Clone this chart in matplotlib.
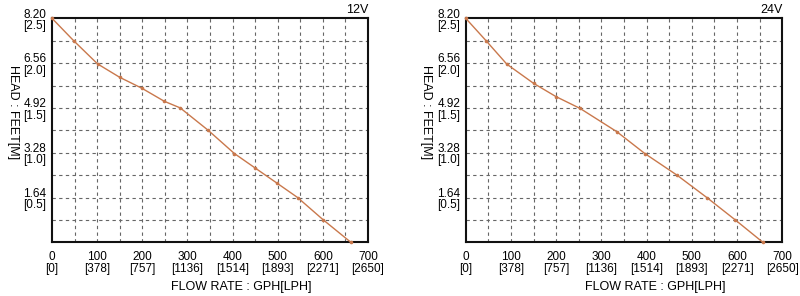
"""Pump performance curves (head vs flow) for 12V and 24V."""

import matplotlib

matplotlib.use("Agg")
import matplotlib.pyplot as plt
import matplotlib.transforms as mtransforms
import numpy as np

# Curve readings: flow in GPH, head in feet
flow_12v = [0, 48, 101, 150, 199, 249, 284, 346, 404, 450, 498, 544, 601, 662]
head_12v = [8.20, 7.38, 6.53, 6.04, 5.64, 5.16, 4.92, 4.10, 3.25, 2.72, 2.17, 1.64, 0.82, 0.0]

flow_24v = [0, 45, 91, 150, 200, 253, 334, 396, 467, 533, 596, 657]
head_24v = [8.20, 7.38, 6.52, 5.82, 5.33, 4.90, 4.05, 3.25, 2.46, 1.64, 0.82, 0.0]

x_ticks = [0, 100, 200, 300, 400, 500, 600, 700]
x_tick_labels = ["0\n[0]", "100\n[378]", "200\n[757]", "300\n[1136]",
                 "400\n[1514]", "500\n[1893]", "600\n[2271]", "700\n[2650]"]
y_ticks = [1.64, 3.28, 4.92, 6.56, 8.20]
y_tick_labels = ["1.64\n[0.5]", "3.28\n[1.0]", "4.92\n[1.5]", "6.56\n[2.0]", "8.20\n[2.5]"]

curves = [("12V", flow_12v, head_12v), ("24V", flow_24v, head_24v)]

plt.rcParams["font.family"] = ["Liberation Sans", "DejaVu Sans"]

LINE_COLOR = "#c9784c"
GRID_COLOR = "#666666"

fig = plt.figure(figsize=(8.0, 2.96), dpi=100)
positions = [
    [52 / 800, 53.7 / 296, 316 / 800, 224 / 296],
    [465.7 / 800, 53.7 / 296, 316.6 / 800, 224 / 296],
]
shift_down = mtransforms.ScaledTranslation(0, -2 / 100, fig.dpi_scale_trans)

for (label, flow, head), pos in zip(curves, positions):
    ax = fig.add_axes(pos)
    ax.set_xlim(0, 700)
    ax.set_ylim(0, 8.2)

    # dashed grid every 50 GPH and every 0.82 ft
    for gx in np.arange(50, 700, 50):
        ax.axvline(gx, color=GRID_COLOR, lw=0.8, ls=(0, (3, 3)), zorder=1)
    for gy in np.arange(1, 10) * 0.82:
        ax.axhline(gy, color=GRID_COLOR, lw=0.8, ls=(0, (3, 3)), zorder=1)

    ax.plot(flow, head, color=LINE_COLOR, lw=1.0, marker="o", markersize=1.6,
            zorder=3, clip_on=False)

    ax.set_xticks(x_ticks)
    ax.set_xticklabels(x_tick_labels, fontsize=8.5, linespacing=1.05)
    ax.set_yticks(y_ticks)
    ax.set_yticklabels(y_tick_labels, fontsize=8.5, linespacing=0.95)
    ax.tick_params(axis="x", length=0, pad=6)
    ax.tick_params(axis="y", length=0, pad=4)
    for t in ax.get_yticklabels():
        t.set_va("center")
        t.set_transform(t.get_transform() + shift_down)

    for spine in ax.spines.values():
        spine.set_linewidth(1.5)
        spine.set_color("#111111")

    ax.set_title(label, loc="right", fontsize=9, pad=4)
    ax.set_xlabel("FLOW RATE : GPH[LPH]", fontsize=9, va="center")
    ax.xaxis.set_label_coords(0.60, -0.198)
    ax.set_ylabel("HEAD : FEET[M]", fontsize=9, rotation=270, va="center")
    ax.yaxis.set_label_coords(-0.125, 0.58)

fig.savefig("out.png", dpi=100)
plt.close(fig)
